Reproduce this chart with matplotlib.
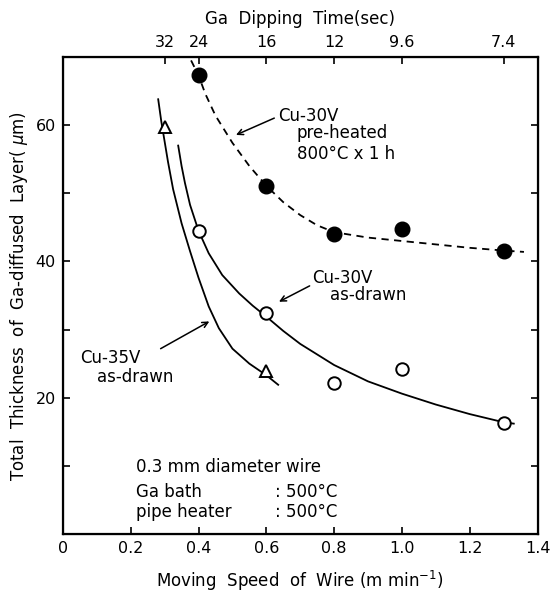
import matplotlib
matplotlib.use("Agg")
import matplotlib.pyplot as plt

# measured points
speed_pre = [0.4, 0.6, 0.8, 1.0, 1.3]
thick_pre = [67.3, 51.1, 44.1, 44.7, 41.6]
speed_30 = [0.4, 0.6, 0.8, 1.0, 1.3]
thick_30 = [44.5, 32.4, 22.2, 24.2, 16.3]
speed_35 = [0.3, 0.6]
thick_35 = [59.7, 23.9]

# hand-drawn trend curves
curve_pre_x = [0.378, 0.40, 0.42, 0.45, 0.50, 0.55, 0.60, 0.65, 0.70, 0.75, 0.80, 0.90, 1.00, 1.10, 1.20, 1.30, 1.36]
curve_pre_y = [69.5, 67.3, 64.6, 61.4, 57.4, 54.0, 51.1, 48.7, 46.8, 45.3, 44.3, 43.5, 43.0, 42.5, 42.0, 41.6, 41.4]
curve_30_x = [0.34, 0.35, 0.36, 0.375, 0.40, 0.43, 0.47, 0.52, 0.56, 0.60, 0.65, 0.70, 0.80, 0.90, 1.00, 1.10, 1.20, 1.30, 1.33]
curve_30_y = [57.0, 54.0, 51.5, 48.3, 44.5, 41.2, 38.0, 35.3, 33.5, 31.9, 29.8, 27.9, 24.8, 22.4, 20.6, 19.0, 17.6, 16.4, 16.2]
curve_35_x = [0.281, 0.29, 0.30, 0.31, 0.325, 0.35, 0.375, 0.40, 0.43, 0.46, 0.50, 0.55, 0.60, 0.635]
curve_35_y = [63.8, 60.6, 57.6, 54.6, 50.6, 45.6, 41.5, 37.6, 33.4, 30.2, 27.2, 25.0, 23.3, 21.9]

# top axis: dipping time at given speeds
top_ticks = [0.3, 0.4, 0.6, 0.8, 1.0, 1.3]
top_labels = ["32", "24", "16", "12", "9.6", "7.4"]

FS = 11.5
TS = 12

fig = plt.figure(figsize=(5.57, 5.97), dpi=100)
ax = fig.add_axes([0.113, 0.1055, 0.852, 0.799])

ax.plot(curve_pre_x, curve_pre_y, color="black", lw=1.3, ls=(0, (4, 3)))
ax.plot(curve_30_x, curve_30_y, color="black", lw=1.3)
ax.plot(curve_35_x, curve_35_y, color="black", lw=1.3)

ax.plot(speed_pre, thick_pre, "o", color="black", ms=10.5)
ax.plot(speed_30, thick_30, "o", mfc="white", mec="black", mew=1.4, ms=9)
ax.plot(speed_35, thick_35, "^", mfc="white", mec="black", mew=1.4, ms=9)

ax.set_xlim(0, 1.4)
ax.set_ylim(0, 70)
ax.set_xticks([0, 0.2, 0.4, 0.6, 0.8, 1.0, 1.2, 1.4])
ax.set_xticklabels(["0", "0.2", "0.4", "0.6", "0.8", "1.0", "1.2", "1.4"])
ax.set_yticks([0, 10, 20, 30, 40, 50, 60])
ax.set_yticklabels(["", "", "20", "", "40", "", "60"])
ax.tick_params(direction="in", length=5, width=1.2, labelsize=FS, right=True, pad=5)
for s in ax.spines.values():
    s.set_linewidth(1.6)

ax.set_xlabel(r"Moving  Speed  of  Wire (m min$^{-1}$)", fontsize=TS, labelpad=9)
ax.set_ylabel(r"Total  Thickness  of  Ga-diffused  Layer( $\mu$m)", fontsize=TS, labelpad=4)

top = ax.twiny()
top.set_xlim(ax.get_xlim())
top.set_xticks(top_ticks)
top.set_xticklabels(top_labels)
top.tick_params(direction="in", length=5, width=1.2, labelsize=FS, pad=5)
top.set_xlabel("Ga  Dipping  Time(sec)", fontsize=TS, labelpad=8)

# annotations
ax.annotate("", xy=(0.503, 58.4), xytext=(0.631, 61.2),
            arrowprops=dict(arrowstyle="->", color="black", lw=1.1))
ax.text(0.635, 61.3, "Cu-30V", fontsize=TS, va="center", ha="left")
ax.text(0.69, 58.8, "pre-heated", fontsize=TS, va="center", ha="left")
ax.text(0.69, 55.7, "800°C x 1 h", fontsize=TS, va="center", ha="left")

ax.annotate("", xy=(0.63, 33.9), xytext=(0.735, 36.6),
            arrowprops=dict(arrowstyle="->", color="black", lw=1.1))
ax.text(0.735, 37.5, "Cu-30V", fontsize=TS, va="center", ha="left")
ax.text(0.788, 35.1, "as-drawn", fontsize=TS, va="center", ha="left")

ax.annotate("", xy=(0.439, 31.4), xytext=(0.281, 27.0),
            arrowprops=dict(arrowstyle="->", color="black", lw=1.1))
ax.text(0.05, 25.8, "Cu-35V", fontsize=TS, va="center", ha="left")
ax.text(0.10, 23.1, "as-drawn", fontsize=TS, va="center", ha="left")

ax.text(0.217, 9.9, "0.3 mm diameter wire", fontsize=TS, va="center", ha="left")
ax.text(0.217, 6.1, "Ga bath", fontsize=TS, va="center", ha="left")
ax.text(0.625, 6.1, ": 500°C", fontsize=TS, va="center", ha="left")
ax.text(0.217, 3.3, "pipe heater", fontsize=TS, va="center", ha="left")
ax.text(0.625, 3.3, ": 500°C", fontsize=TS, va="center", ha="left")

fig.savefig("out.png", dpi=100)
